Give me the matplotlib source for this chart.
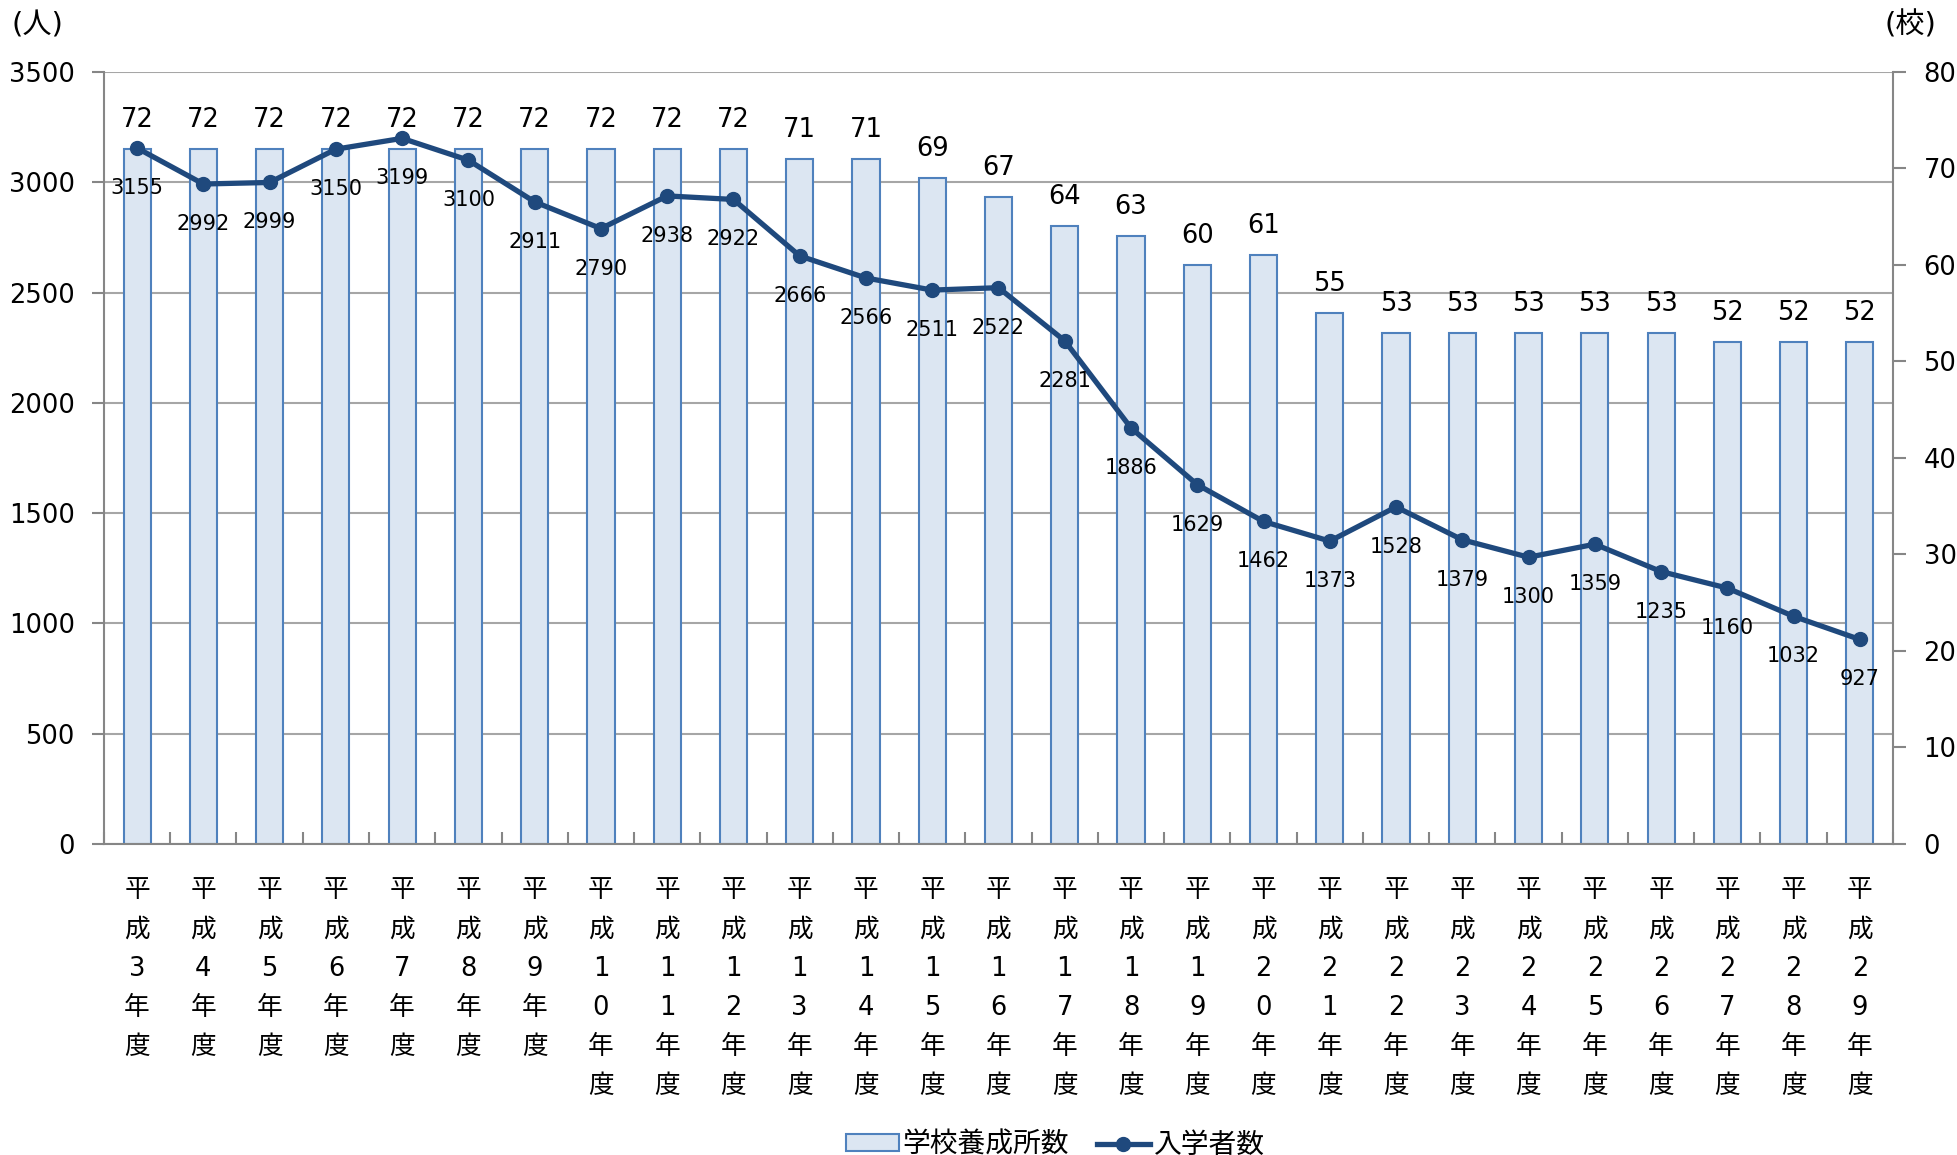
import matplotlib
matplotlib.use("Agg")
import matplotlib.pyplot as plt
import numpy as np

plt.rcParams['font.family'] = ['DejaVu Sans', 'Noto Sans CJK JP']

years = list(range(3, 30))
categories = ["\n".join("平成" + str(y) + "年度") for y in years]
schools = [72, 72, 72, 72, 72, 72, 72, 72, 72, 72, 71, 71, 69, 67, 64, 63, 60, 61,
           55, 53, 53, 53, 53, 53, 52, 52, 52]
entrants = [3155, 2992, 2999, 3150, 3199, 3100, 2911, 2790, 2938, 2922, 2666, 2566,
            2511, 2522, 2281, 1886, 1629, 1462, 1373, 1528, 1379, 1300, 1359, 1235,
            1160, 1032, 927]
left_ticks = [0, 500, 1000, 1500, 2000, 2500, 3000, 3500]
right_ticks = [0, 10, 20, 30, 40, 50, 60, 70, 80]

BAR_FILL = '#DCE6F2'
BAR_EDGE = '#4F81BD'
LINE_C = '#1F497D'
GRID_C = '#A6A6A6'
AX_C = '#868686'

fig = plt.figure(figsize=(19.58, 11.55), dpi=100)
ax1 = fig.add_axes([0.0531, 0.2693, 0.9137, 0.6684])
x = np.arange(len(categories))

# bars on right scale
bars = ax1.bar(x, schools, width=0.41, color=BAR_FILL, edgecolor=BAR_EDGE,
               linewidth=1.5, zorder=2, label='学校養成所数')
ax1.set_ylim(0, 80)
ax1.set_xlim(-0.5, len(categories) - 0.5)
for xi, v in zip(x, schools):
    ax1.annotate(str(v), (xi, v), xytext=(0, 29), textcoords='offset pixels',
                 ha='center', va='center', fontsize=18.5, zorder=5)

# line on left scale
ax2 = ax1.twinx()
ax2.set_ylim(0, 3500)

ax1.yaxis.tick_right()
ax1.yaxis.set_label_position('right')
ax1.set_yticks(right_ticks)
ax1.tick_params(axis='y', which='major', left=False, labelleft=False,
                right=True, labelright=True, length=9, width=1.5, color=AX_C,
                labelsize=18.5, pad=13, direction='out')
ax2.yaxis.tick_left()
ax2.set_yticks(left_ticks)
ax2.tick_params(axis='y', which='major', right=False, labelright=False,
                left=True, labelleft=True, length=9, width=1.5, color=AX_C,
                labelsize=18.5, pad=12, direction='out')

# gridlines (left scale) drawn behind bars
ax1.hlines(left_ticks, -0.5, len(categories) - 0.5, transform=ax2.transData,
           colors=GRID_C, linewidth=1.5, zorder=0)
line, = ax2.plot(x, entrants, color=LINE_C, linewidth=3.8, marker='o',
                 markersize=10, zorder=3, label='入学者数')
for xi, v in zip(x, entrants):
    ax2.annotate(str(v), (xi, v), xytext=(0, -40), textcoords='offset pixels',
                 ha='center', va='center', fontsize=15, zorder=6)

# x axis
ax1.set_xticks(x)
ax1.set_xticklabels(categories, fontsize=18.5, linespacing=1.66, va='top')
ax1.tick_params(axis='x', which='major', length=0, pad=24)
ax1.set_xticks(np.arange(-0.5, len(categories), 1.0), minor=True)
ax1.tick_params(axis='x', which='minor', length=9, width=1.5, color=AX_C,
                direction='in')
ax2.tick_params(axis='x', which='both', length=0)

for a in (ax1, ax2):
    for s in a.spines.values():
        s.set_color(AX_C)
        s.set_linewidth(1.5)
    a.spines['top'].set_visible(False)
for s in ('left', 'right', 'bottom'):
    ax2.spines[s].set_visible(False)

fig.text(0.006, 0.978, '(人)', fontsize=21, ha='left', va='center')
fig.text(0.989, 0.978, '(校)', fontsize=21, ha='right', va='center')

fig.legend(handles=[bars, line], labels=['学校養成所数', '入学者数'],
           loc='center', bbox_to_anchor=(0.539, 0.009), ncol=2, frameon=False,
           fontsize=20, handlelength=1.9, handleheight=0.55, columnspacing=1.0,
           handletextpad=0.15)

fig.savefig('out.png', dpi=100)
